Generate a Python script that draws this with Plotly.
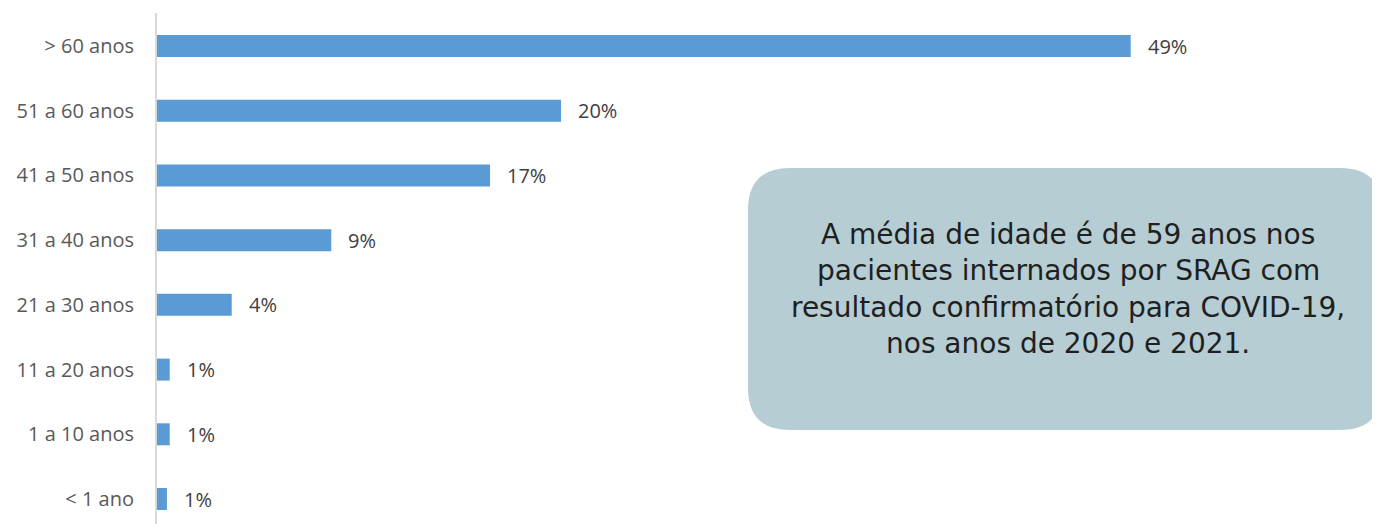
import plotly.graph_objects as go

categories = ["< 1 ano", "1 a 10 anos", "11 a 20 anos", "21 a 30 anos",
              "31 a 40 anos", "41 a 50 anos", "51 a 60 anos", "> 60 anos"]
values = [0.5, 0.64, 0.64, 3.76, 8.77, 16.76, 20.33, 49.0]
value_labels = ["1%", "1%", "1%", "4%", "9%", "17%", "20%", "49%"]
note_lines = ["A média de idade é de 59 anos nos",
              "pacientes internados por SRAG com",
              "resultado confirmatório para COVID-19,",
              "nos anos de 2020 e 2021."]

# page body has an 8px margin; figure drawn inside it
OFF = 8
W, H = 1380 - OFF, 524 - OFF
ML, MR, MT, MB = 157 - OFF, 0, 13 - OFF, 0
PW, PH = W - ML - MR, H - MT - MB

def px(x):  # screen px -> paper
    return (x - OFF - ML) / PW

def py(y):
    return (H - MB - (y - OFF)) / PH

fig = go.Figure()
fig.add_trace(go.Bar(
    y=categories, x=values, orientation="h",
    marker=dict(color="#5b9bd5", line=dict(width=0)),
    width=0.34, hoverinfo="skip",
))

label_font = dict(family="Open Sans, sans-serif", size=20, color="#404040")
for c, v, t in zip(categories, values, value_labels):
    fig.add_annotation(x=v, y=c, text=t, xref="x", yref="y", showarrow=False,
                       xanchor="left", yanchor="middle", xshift=15, font=label_font)

# rounded box
x0, x1, y0, y1, r = 748, 1382, 168, 430, 42
path = (f"M {px(x0+r)},{py(y0)} L {px(x1-r)},{py(y0)} Q {px(x1)},{py(y0)} {px(x1)},{py(y0+r)} "
        f"L {px(x1)},{py(y1-r)} Q {px(x1)},{py(y1)} {px(x1-r)},{py(y1)} "
        f"L {px(x0+r)},{py(y1)} Q {px(x0)},{py(y1)} {px(x0)},{py(y1-r)} "
        f"L {px(x0)},{py(y0+r)} Q {px(x0)},{py(y0)} {px(x0+r)},{py(y0)} Z")
fig.add_shape(type="path", path=path, xref="paper", yref="paper",
              fillcolor="#b5cdd3", line=dict(width=0), layer="above")

line_y = [253, 289, 326, 362]
for t, ly in zip(note_lines, line_y):
    fig.add_annotation(x=px(1068), y=py(ly), xref="paper", yref="paper", text=t,
                       showarrow=False, xanchor="center", yanchor="bottom",
                       font=dict(family="DejaVu Sans, sans-serif", size=28, color="#1f1f1f"))

fig.update_layout(
    width=W, height=H,
    margin=dict(l=ML, r=MR, t=MT, b=MB),
    paper_bgcolor="white", plot_bgcolor="white",
    showlegend=False,
    xaxis=dict(range=[0, PW / (973.7 / 49)], visible=False, fixedrange=True),
    yaxis=dict(categoryorder="array", categoryarray=categories,
               range=[-0.386, 7.51], showline=True, linecolor="#d9d9d9", linewidth=2,
               showgrid=False, zeroline=False, ticks="", ticklabelstandoff=17,
               tickfont=dict(family="Open Sans, sans-serif", size=20, color="#595959")),
)
fig.write_html("out.html")
